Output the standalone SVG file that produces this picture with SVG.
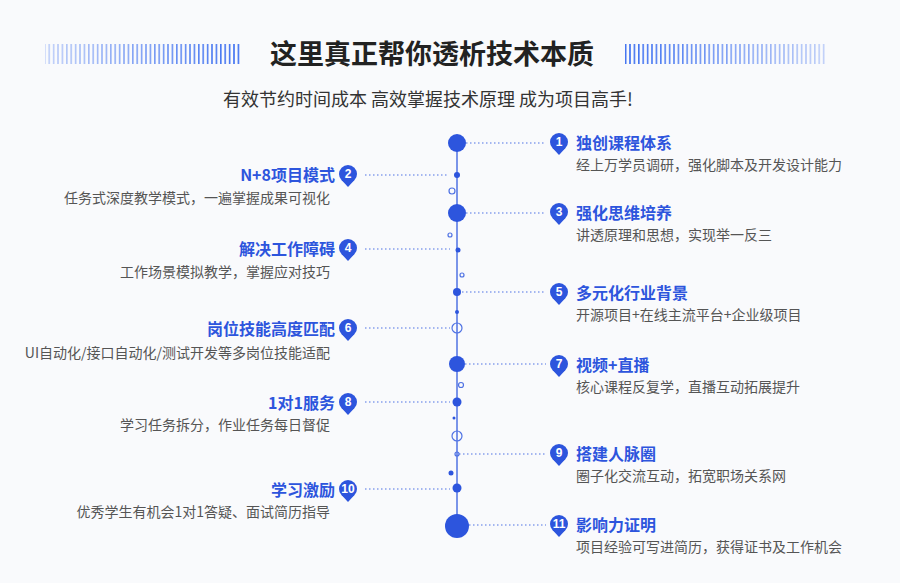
<svg xmlns="http://www.w3.org/2000/svg" width="900" height="583" viewBox="0 0 900 583">
<defs>
<linearGradient id="gl" x1="0" x2="1"><stop offset="0" stop-color="#3b6ef0" stop-opacity="0.3"/><stop offset="1" stop-color="#3b6ef0"/></linearGradient>
<linearGradient id="gr" x1="0" x2="1"><stop offset="0" stop-color="#3b6ef0"/><stop offset="1" stop-color="#3b6ef0" stop-opacity="0.3"/></linearGradient>
<pattern id="st" width="4.4" height="20" patternUnits="userSpaceOnUse"><rect width="1.6" height="20" fill="#fff"/></pattern>
<mask id="m"><rect width="900" height="583" fill="url(#st)"/></mask>
<g id="pin"><circle r="9" fill="#2d55dd"/><path d="M-6,6.5 L0,13 L6,6.5Z" fill="#2d55dd"/></g>
</defs>
<style>
.t{font-family:"Noto Sans CJK SC","Noto Sans",sans-serif;font-weight:700;font-size:16px;fill:#2d55dd}
.s{font-family:"Noto Sans CJK SC","Noto Sans",sans-serif;font-size:14px;fill:#555}
.n{font-family:"Liberation Sans",sans-serif;font-weight:700;font-size:12px;fill:#fff;text-anchor:middle}
.d{stroke:#4f72e3;stroke-width:1.2;stroke-dasharray:1.5 2.5;fill:none}
.f{fill:#2d55dd}
.h{fill:none;stroke:#4f72e3;stroke-width:1.2}
.r{text-anchor:end}
</style>
<rect width="900" height="583" fill="#f9fafc"/>
<g mask="url(#m)"><rect x="45" y="44" width="196" height="20" fill="url(#gl)"/><rect x="625" y="44" width="200" height="20" fill="url(#gr)"/></g>
<text x="432" y="64" text-anchor="middle" font-family="Noto Sans CJK SC,sans-serif" font-weight="700" font-size="27" fill="#222">这里真正帮你透析技术本质</text>
<text x="428" y="106" text-anchor="middle" font-family="Noto Sans CJK SC,sans-serif" font-size="18" fill="#333">有效节约时间成本 高效掌握技术原理 成为项目高手!</text>
<g id="connectors">
<line x1="457" y1="143" x2="457" y2="526" stroke="#4f72e3" stroke-width="1.5"/>
<path class="d" d="M466,143H546M365,175H449M466,213H546M365,249H450M462,292H546M365,328H450M465,364H546M365,402H450M459,454H546M365,489H450M469,525H546"/>
</g>
<g id="dots">
<circle class="f" cx="457" cy="143" r="9"/><circle class="f" cx="457" cy="175" r="3"/><circle class="h" cx="452" cy="191" r="3"/>
<circle class="f" cx="457" cy="213" r="9"/><circle class="h" cx="450" cy="235" r="2"/><circle class="f" cx="458" cy="250" r="2.5"/>
<circle class="h" cx="462" cy="275" r="2"/><circle class="f" cx="457" cy="292" r="4"/><circle class="f" cx="457" cy="312" r="2"/>
<circle class="h" cx="457" cy="328" r="5" fill="#f9fafc"/><circle class="f" cx="457" cy="364" r="8"/><circle class="h" cx="461" cy="385" r="2.5"/>
<circle class="f" cx="457" cy="402" r="4.5"/><circle class="f" cx="454" cy="418" r="1.5"/><circle class="h" cx="457" cy="436" r="5"/>
<circle class="h" cx="457" cy="454" r="2"/><circle class="f" cx="451" cy="473" r="2.5"/><circle class="f" cx="457" cy="488" r="4.5"/>
<circle class="f" cx="457" cy="526" r="12"/>
</g>
<g id="n1"><use href="#pin" x="559" y="142"/><text class="n" x="559" y="146">1</text><text class="t" x="576" y="149">独创课程体系</text><text class="s" x="576" y="170">经上万学员调研，强化脚本及开发设计能力</text></g>
<g id="n2"><use href="#pin" x="348" y="174"/><text class="n" x="348" y="178">2</text><text class="t r" x="335" y="181">N+8项目模式</text><text class="s r" x="330" y="203">任务式深度教学模式，一遍掌握成果可视化</text></g>
<g id="n3"><use href="#pin" x="559" y="212"/><text class="n" x="559" y="216">3</text><text class="t" x="576" y="219">强化思维培养</text><text class="s" x="576" y="240">讲透原理和思想，实现举一反三</text></g>
<g id="n4"><use href="#pin" x="348" y="248"/><text class="n" x="348" y="252">4</text><text class="t r" x="335" y="255">解决工作障碍</text><text class="s r" x="330" y="277">工作场景模拟教学，掌握应对技巧</text></g>
<g id="n5"><use href="#pin" x="559" y="292"/><text class="n" x="559" y="296">5</text><text class="t" x="576" y="299">多元化行业背景</text><text class="s" x="576" y="320">开源项目+在线主流平台+企业级项目</text></g>
<g id="n6"><use href="#pin" x="348" y="328"/><text class="n" x="348" y="332">6</text><text class="t r" x="335" y="335">岗位技能高度匹配</text><text class="s r" x="330" y="358">UI自动化/接口自动化/测试开发等多岗位技能适配</text></g>
<g id="n7"><use href="#pin" x="559" y="364"/><text class="n" x="559" y="368">7</text><text class="t" x="576" y="371">视频+直播</text><text class="s" x="576" y="392">核心课程反复学，直播互动拓展提升</text></g>
<g id="n8"><use href="#pin" x="348" y="402"/><text class="n" x="348" y="406">8</text><text class="t r" x="335" y="409">1对1服务</text><text class="s r" x="330" y="430">学习任务拆分，作业任务每日督促</text></g>
<g id="n9"><use href="#pin" x="559" y="453"/><text class="n" x="559" y="457">9</text><text class="t" x="576" y="460">搭建人脉圈</text><text class="s" x="576" y="481">圈子化交流互动，拓宽职场关系网</text></g>
<g id="n10"><use href="#pin" x="348" y="489"/><text class="n" x="348" y="493" font-size="11">10</text><text class="t r" x="335" y="496">学习激励</text><text class="s r" x="330" y="517">优秀学生有机会1对1答疑、面试简历指导</text></g>
<g id="n11"><use href="#pin" x="559" y="524"/><text class="n" x="559" y="528" font-size="11">11</text><text class="t" x="576" y="531">影响力证明</text><text class="s" x="576" y="552">项目经验可写进简历，获得证书及工作机会</text></g>
</svg>
